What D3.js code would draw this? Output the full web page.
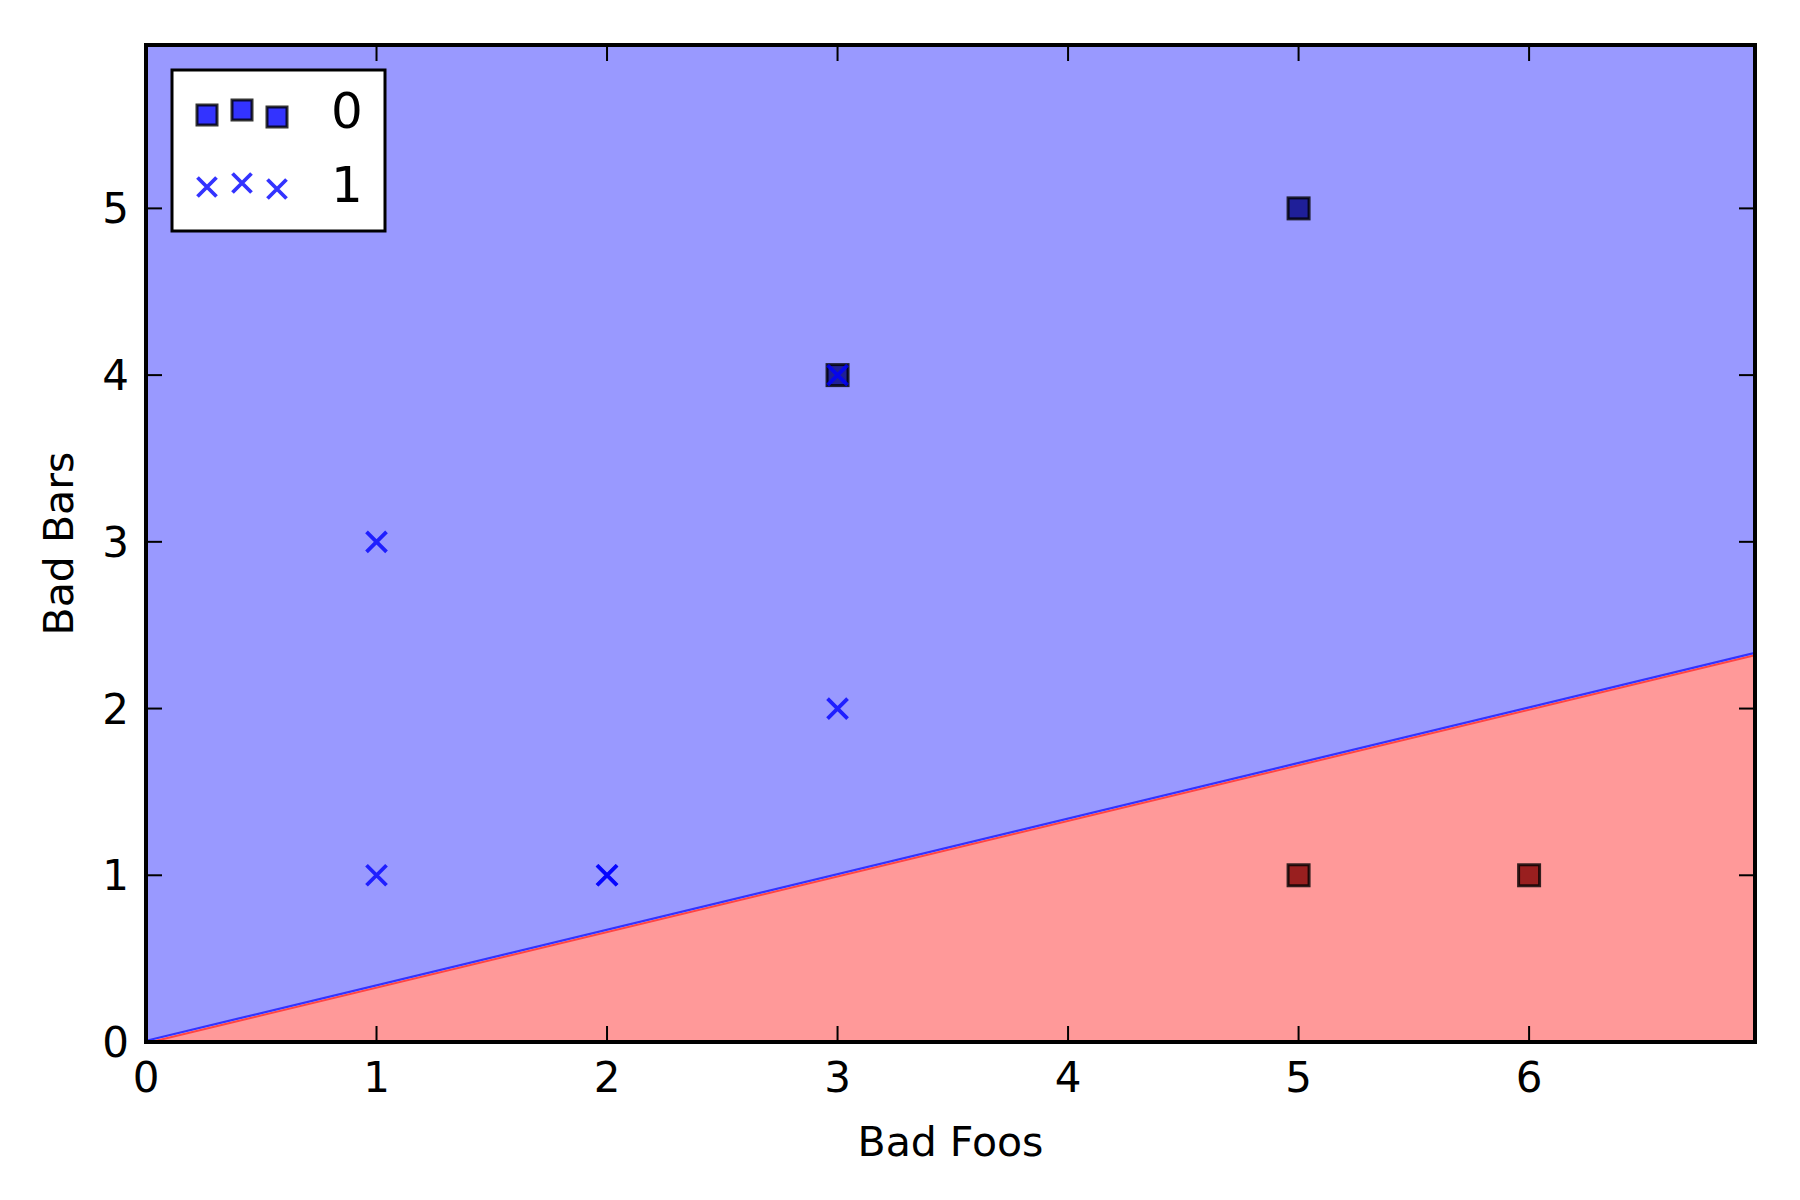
<!DOCTYPE html>
<html>
<head>
<meta charset="utf-8">
<script src="https://cdn.jsdelivr.net/npm/d3@7"></script>
<style>
	html, body { margin: 0; padding: 0; background: #fff; }
	text { font-family: "DejaVu Sans", sans-serif; fill: #000; }
</style>
</head>
<body>
<svg id="chart"></svg>
<script>
const width = 1800;
const height = 1200;

// data
const class0X = [5, 3, 5, 6];
const class0Y = [1, 4, 5, 1];
const class0Colors = ["#800000", "#000080", "#000080", "#800000"];
const class1X = [1, 1, 2, 2, 3, 3];
const class1Y = [3, 1, 1, 1, 2, 4];
const boundaryX = [0, 6.98];
const boundaryY = [0, 2.327];
const xTicks = [0, 1, 2, 3, 4, 5, 6];
const yTicks = [0, 1, 2, 3, 4, 5];
const xDomain = [0, 6.98];
const yDomain = [0, 5.98];
const legendLabels = ["0", "1"];

const margin = { left: 146, right: 45, top: 45, bottom: 158 };
const plotRight = width - margin.right;
const plotBottom = height - margin.bottom;

const x = d3.scaleLinear().domain(xDomain).range([margin.left, plotRight]);
const y = d3.scaleLinear().domain(yDomain).range([plotBottom, margin.top]);

const svg = d3.select("#chart").attr("width", width).attr("height", height);

svg.append("defs")
	.append("clipPath")
	.attr("id", "plotClip")
	.append("rect")
	.attr("x", margin.left)
	.attr("y", margin.top)
	.attr("width", plotRight - margin.left)
	.attr("height", plotBottom - margin.top);

const plot = svg.append("g").attr("clip-path", "url(#plotClip)");

// decision regions
const boundary = boundaryX.map((bx, i) => [bx, boundaryY[i]]);
const upper = [...boundary, [xDomain[1], yDomain[1]], [xDomain[0], yDomain[1]]];
const lower = [...boundary, [xDomain[1], yDomain[0]], [xDomain[0], yDomain[0]]];
const area = d3.line().x((d) => x(d[0])).y((d) => y(d[1]));

plot.append("path").attr("d", area(upper) + "Z").attr("fill", "#9999ff");
plot.append("path").attr("d", area(lower) + "Z").attr("fill", "#ff9999");

const edge = d3.line().x((d) => x(d[0])).y((d) => y(d[1]));
plot.append("path")
	.attr("d", edge(boundary))
	.attr("transform", "translate(0,1.2)")
	.attr("fill", "none")
	.attr("stroke", "#ff4444")
	.attr("stroke-width", 2);
plot.append("path")
	.attr("d", edge(boundary))
	.attr("transform", "translate(0,-1.2)")
	.attr("fill", "none")
	.attr("stroke", "#3333ff")
	.attr("stroke-width", 2.2);

// class 0 squares
const sq = 21;
plot.selectAll(".sq")
	.data(class0X.map((d, i) => ({ x: d, y: class0Y[i], c: class0Colors[i] })))
	.enter()
	.append("rect")
	.attr("class", "sq")
	.attr("x", (d) => x(d.x) - sq / 2)
	.attr("y", (d) => y(d.y) - sq / 2)
	.attr("width", sq)
	.attr("height", sq)
	.attr("fill", (d) => d.c)
	.attr("fill-opacity", 0.8)
	.attr("stroke", "#000")
	.attr("stroke-opacity", 0.8)
	.attr("stroke-width", 3);

// class 1 crosses
const xm = 10;
const crossPath = (cx, cy, r) => `M${cx - r},${cy - r}L${cx + r},${cy + r}M${cx - r},${cy + r}L${cx + r},${cy - r}`;
plot.selectAll(".cross")
	.data(class1X.map((d, i) => ({ x: d, y: class1Y[i] })))
	.enter()
	.append("path")
	.attr("class", "cross")
	.attr("d", (d) => crossPath(x(d.x), y(d.y), xm))
	.attr("stroke", "#0000ff")
	.attr("stroke-opacity", 0.8)
	.attr("stroke-width", 3.8)
	.attr("fill", "none");

// ticks, inside on all four sides
const tickLen = 16;
const ticks = svg.append("g").attr("stroke", "#000").attr("stroke-width", 2);
xTicks.forEach((t) => {
	ticks.append("line").attr("x1", x(t)).attr("x2", x(t)).attr("y1", plotBottom).attr("y2", plotBottom - tickLen);
	ticks.append("line").attr("x1", x(t)).attr("x2", x(t)).attr("y1", margin.top).attr("y2", margin.top + tickLen);
});
yTicks.forEach((t) => {
	ticks.append("line").attr("x1", margin.left).attr("x2", margin.left + tickLen).attr("y1", y(t)).attr("y2", y(t));
	ticks.append("line").attr("x1", plotRight).attr("x2", plotRight - tickLen).attr("y1", y(t)).attr("y2", y(t));
});

svg.selectAll(".xtl")
	.data(xTicks)
	.enter()
	.append("text")
	.attr("x", (d) => x(d))
	.attr("y", plotBottom + 50)
	.attr("text-anchor", "middle")
	.attr("font-size", 42)
	.text((d) => d);

svg.selectAll(".ytl")
	.data(yTicks)
	.enter()
	.append("text")
	.attr("x", margin.left - 17)
	.attr("y", (d) => y(d) + 15)
	.attr("text-anchor", "end")
	.attr("font-size", 42)
	.text((d) => d);

// frame
svg.append("rect")
	.attr("x", margin.left)
	.attr("y", margin.top)
	.attr("width", plotRight - margin.left)
	.attr("height", plotBottom - margin.top)
	.attr("fill", "none")
	.attr("stroke", "#000")
	.attr("stroke-width", 4);

svg.append("text")
	.attr("x", (margin.left + plotRight) / 2)
	.attr("y", 1156)
	.attr("text-anchor", "middle")
	.attr("font-size", 41)
	.text("Bad Foos");

svg.append("text")
	.attr("transform", `translate(73,${(margin.top + plotBottom) / 2}) rotate(-90)`)
	.attr("text-anchor", "middle")
	.attr("font-size", 41)
	.text("Bad Bars");

// legend
const legend = svg.append("g");
legend.append("rect")
	.attr("x", 172)
	.attr("y", 70)
	.attr("width", 213)
	.attr("height", 161)
	.attr("fill", "#fff")
	.attr("stroke", "#000")
	.attr("stroke-width", 3);

const legendXs = [207, 242, 277];
const sqOffsets = [2, -3, 4];
const crossOffsets = [3, -1, 5];
legendXs.forEach((lx, i) => {
	legend.append("rect")
		.attr("x", lx - 10)
		.attr("y", 113 + sqOffsets[i] - 10)
		.attr("width", 20)
		.attr("height", 20)
		.attr("fill", "#0000ff")
		.attr("fill-opacity", 0.8)
		.attr("stroke", "#000")
		.attr("stroke-opacity", 0.8)
		.attr("stroke-width", 3);
	legend.append("path")
		.attr("d", crossPath(lx, 184 + crossOffsets[i], 9.5))
		.attr("stroke", "#0000ff")
		.attr("stroke-opacity", 0.8)
		.attr("stroke-width", 3.8)
		.attr("fill", "none");
});

legendLabels.forEach((lab, i) => {
	legend.append("text")
		.attr("x", 347)
		.attr("y", 128 + i * 74)
		.attr("text-anchor", "middle")
		.attr("font-size", 50)
		.text(lab);
});
</script>
</body>
</html>
